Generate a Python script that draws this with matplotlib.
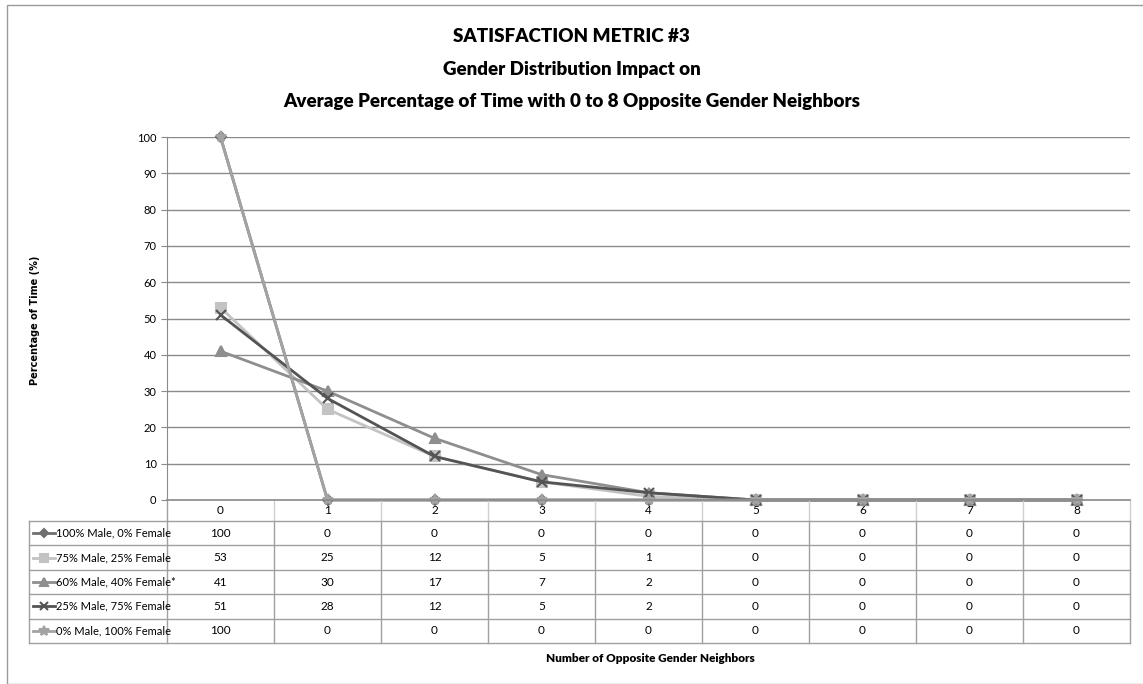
import matplotlib
matplotlib.use("Agg")
import matplotlib.pyplot as plt
from matplotlib.lines import Line2D
import matplotlib.transforms as mtransforms

plt.rcParams['font.family'] = ['Lato', 'DejaVu Sans']

categories = [0, 1, 2, 3, 4, 5, 6, 7, 8]
series_names = ["100% Male, 0% Female", "75% Male, 25% Female", "60% Male, 40% Female*",
                "25% Male, 75% Female", "0% Male, 100% Female"]
male100 = [100, 0, 0, 0, 0, 0, 0, 0, 0]
male75 = [53, 25, 12, 5, 1, 0, 0, 0, 0]
male60 = [41, 30, 17, 7, 2, 0, 0, 0, 0]
male25 = [51, 28, 12, 5, 2, 0, 0, 0, 0]
male0 = [100, 0, 0, 0, 0, 0, 0, 0, 0]
series = [male100, male75, male60, male25, male0]
colors = ["#6f6f6f", "#c3c3c3", "#8e8e8e", "#545454", "#a3a3a3"]
markers = ["D", "s", "^", "x", "*"]
msizes = [5, 7, 7, 7, 8]

W, H = 1143, 684
fig = plt.figure(figsize=(W / 100, H / 100), dpi=100)
# outer chart border
fig.add_artist(plt.Rectangle((7 / W, 0.5 / H), 1.2, (H - 5.5) / H, transform=fig.transFigure,
                             fill=False, edgecolor="#9a9a9a", lw=1))

left, right, top, bottom = 167, 1130, 137, 500
ax = fig.add_axes([left / W, 1 - bottom / H, (right - left) / W, (bottom - top) / H])
ax.set_xlim(-0.5, 8.5)
ax.set_ylim(0, 100)
ax.set_yticks(range(0, 101, 10))
ax.tick_params(axis='y', labelsize=8, length=4, color="#8a8a8a", direction='out')
ax.tick_params(axis='x', length=0, labelbottom=False)
ax.yaxis.grid(True, color="#8a8a8a", lw=1)
ax.set_axisbelow(True)
for s in ["top", "right"]:
    ax.spines[s].set_visible(False)
ax.spines["left"].set_color("#8a8a8a")
ax.spines["bottom"].set_color("#8a8a8a")
ax.spines["bottom"].set_linewidth(1.2)

for vals, c, m, ms in zip(series, colors, markers, msizes):
    ax.plot(categories, vals, color=c, lw=2, marker=m, ms=ms, mec=c, mfc=c, mew=1.5, clip_on=False)

# data table below the axes
ph = bottom - top
header_h = 21 / ph
row_h = 24.4 / ph
nrows = len(series_names)
trans = mtransforms.blended_transform_factory(ax.transData, ax.transAxes)
legend_left = (29 - left) / (right - left)
gc = "#a0a0a0"
tbl_bottom = -header_h - nrows * row_h

for cat in categories:
    ax.text(cat, -header_h / 2, str(cat), transform=trans, ha='center', va='center', fontsize=8.5)
    ax.add_line(Line2D([cat + 0.5, cat + 0.5], [-header_h, tbl_bottom], transform=trans,
                       color=gc, lw=1, clip_on=False))
    ax.add_line(Line2D([cat + 0.5, cat + 0.5], [0, -header_h], transform=trans,
                       color="#d0d0d0", lw=1, clip_on=False))
ax.add_line(Line2D([-0.5, -0.5], [0, tbl_bottom], transform=trans, color=gc, lw=1, clip_on=False))
ax.add_line(Line2D([legend_left, legend_left], [-header_h, tbl_bottom], transform=ax.transAxes,
                   color=gc, lw=1, clip_on=False))
for r in range(nrows + 1):
    yy = -header_h - r * row_h
    ax.add_line(Line2D([legend_left, 1], [yy, yy], transform=ax.transAxes, color=gc, lw=1, clip_on=False))

for r, (name, vals, c, m, ms) in enumerate(zip(series_names, series, colors, markers, msizes)):
    yy = -header_h - (r + 0.5) * row_h
    x0 = legend_left + 4 / (right - left)
    x1 = legend_left + 26 / (right - left)
    ax.add_line(Line2D([x0, x1], [yy, yy], transform=ax.transAxes, color=c, lw=2, clip_on=False))
    ax.add_line(Line2D([(x0 + x1) / 2], [yy], transform=ax.transAxes, color=c, marker=m,
                       ms=ms * 0.9, mec=c, mfc=c, mew=1.5, clip_on=False))
    ax.text(x1 + 1 / (right - left), yy, name, transform=ax.transAxes, ha='left', va='center', fontsize=8)
    for cat, v in zip(categories, vals):
        ax.text(cat, yy, str(v), transform=trans, ha='center', va='center', fontsize=8.5)

title_kw = dict(ha='center', va='center', fontsize=13.5, fontweight='heavy')
fig.text(0.5, 1 - 37 / H, "SATISFACTION METRIC #3", **title_kw)
fig.text(0.5, 1 - 69 / H, "Gender Distribution Impact on", **title_kw)
fig.text(0.5, 1 - 101 / H, "Average Percentage of Time with 0 to 8 Opposite Gender Neighbors", **title_kw)
fig.text(35 / W, 1 - 320 / H, "Percentage of Time (%)", rotation=90, ha='center', va='center',
         fontsize=7, fontweight='bold', family=['DejaVu Sans'])
fig.text(650 / W, 1 - 659 / H, "Number of Opposite Gender Neighbors", ha='center', va='center',
         fontsize=8.5, fontweight='heavy')

fig.savefig("out.png", dpi=100)
